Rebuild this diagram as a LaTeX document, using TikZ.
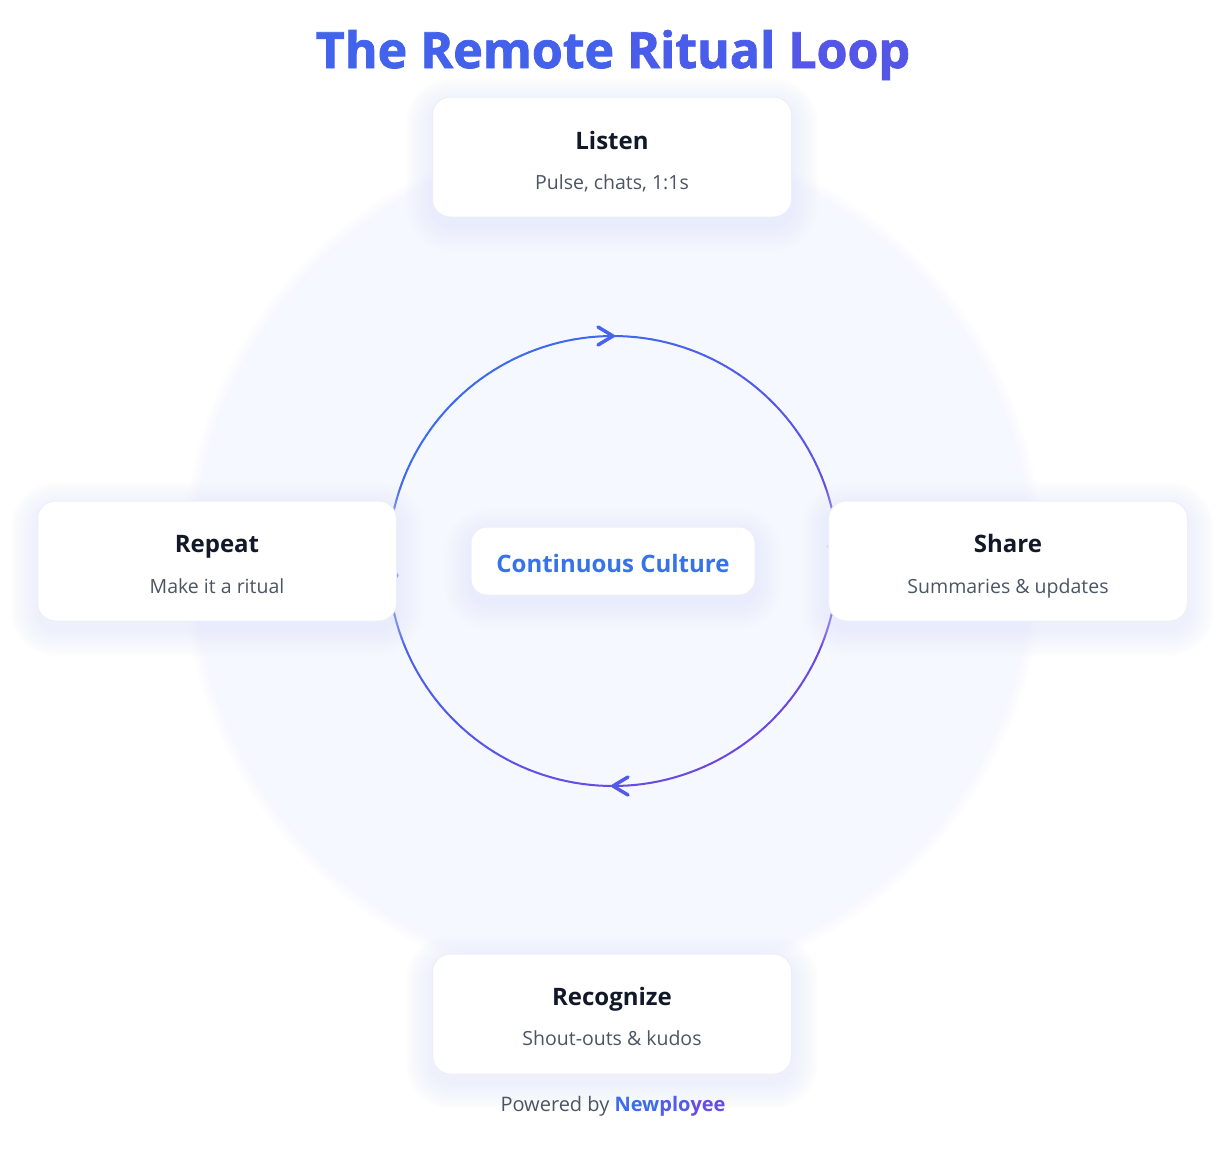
\documentclass[tikz,border=0pt]{standalone}
\usepackage{fontspec}
\setmainfont{Open Sans}
\newfontfamily\titlefont[BoldFeatures={FakeBold=1.6}]{Open Sans}
\definecolor{bgc}{RGB}{246,248,255}
\definecolor{shadowc}{RGB}{222,228,252}
\definecolor{cardborder}{RGB}{236,239,248}
\definecolor{ttlc}{RGB}{17,24,39}
\definecolor{subc}{RGB}{75,85,99}
\definecolor{gA}{RGB}{59,108,240}
\definecolor{gB}{RGB}{108,72,225}
\definecolor{centc}{RGB}{56,114,232}
\newcommand\softshadow[5]{%
  \foreach \k in {1,...,12}{%
    \pgfmathsetmacro\rr{#5+2.2*\k}%
    \fill[shadowc, opacity=0.045, rounded corners=\rr pt]
      ({#1-#3/2-2.2*\k},{#2-#4/2-2.2*\k+8}) rectangle ({#1+#3/2+2.2*\k},{#2+#4/2+2.2*\k+8});
  }}
\tikzset{
  card/.style={draw=cardborder, line width=1pt, fill=white, rounded corners=18pt,
    minimum width=359pt, minimum height=120pt, inner sep=0pt},
  cardttl/.style={font=\bfseries\fontsize{24}{28}\selectfont, text=ttlc, inner sep=0pt, anchor=base},
  cardsub/.style={font=\fontsize{19.5}{24}\selectfont, text=subc, inner sep=0pt, anchor=base},
  chev/.style={line width=3.5pt, line cap=round, line join=round},
}
\begin{document}
\begin{tikzpicture}[x=1pt,y=-1pt]
\useasboundingbox (0,0) rectangle (1232,1154);
\fill[white] (0,0) rectangle (1232,1154);
% background disc
\foreach \k in {1,...,12}{\fill[bgc, opacity=0.07] (613,561) circle ({412+1.5*\k});}
\fill[bgc] (613,561) circle (412);
% title
\node[inner sep=0pt, anchor=base, font=\titlefont\bfseries\fontsize{50}{58}\selectfont] (title) at (613,68)
  {\textcolor[RGB]{66,99,236}{The} \textcolor[RGB]{68,97,236}{Remote} \textcolor[RGB]{74,92,234}{Ritual} \textcolor[RGB]{84,86,232}{Loop}};
% loop circle with gradient
\foreach \a in {0,2,...,358}{%
  \pgfmathsetmacro\t{100*(1-((cos(\a+1)+sin(\a+1))/(2*sqrt(2))+0.5))}%
  \draw[color=gA!\t!gB, line width=2pt, line cap=round]
    ({613+225*cos(\a)},{561+225*sin(\a)}) -- ({613+225*cos(\a+2)},{561+225*sin(\a+2)});
}
\coordinate (ctop) at (613,336);
\coordinate (cbot) at (613,786);
\coordinate (cleft) at (388,561);
\coordinate (cright) at (838,561);
\draw[chev, color={rgb,255:red,74;green,98;blue,240}] ([xshift=-15pt,yshift=9pt]ctop) -- (ctop) -- ([xshift=-15pt,yshift=-9pt]ctop);
\draw[chev, color={rgb,255:red,82;green,90;blue,236}] ([xshift=15pt,yshift=9pt]cbot) -- (cbot) -- ([xshift=15pt,yshift=-9pt]cbot);
\draw[chev, color=gA] ([xshift=-9pt,yshift=-15pt]cleft) -- (cleft) -- ([xshift=9pt,yshift=-15pt]cleft);
\draw[chev, color=gB] ([xshift=-9pt,yshift=15pt]cright) -- (cright) -- ([xshift=9pt,yshift=15pt]cright);
% shadows
\softshadow{612}{157}{359}{120}{18}
\softshadow{217}{561}{359}{120}{18}
\softshadow{1008}{561}{359}{120}{18}
\softshadow{612}{1014}{359}{120}{18}
\softshadow{613}{561}{284}{68}{16}
% cards
\node[card] (listen) at (612,157) {};
\node[cardttl] at ([yshift=8pt]listen.center) {Listen};
\node[cardsub] at ([yshift=-32pt]listen.center) {Pulse, chats, 1:1s};
\node[card] (repeat) at (217,561) {};
\node[cardttl] at ([yshift=9pt]repeat.center) {Repeat};
\node[cardsub] at ([yshift=-32pt]repeat.center) {Make it a ritual};
\node[card] (share) at (1008,561) {};
\node[cardttl] at ([yshift=9pt]share.center) {Share};
\node[cardsub] at ([yshift=-32pt]share.center) {Summaries \& updates};
\node[card] (recog) at (612,1014) {};
\node[cardttl] at ([yshift=9pt]recog.center) {Recognize};
\node[cardsub] at ([yshift=-31pt]recog.center) {Shout-outs \& kudos};
% center
\node[card, minimum width=284pt, minimum height=68pt, rounded corners=16pt] (center) at (613,561) {};
\node[inner sep=0pt, anchor=base, font=\bfseries\fontsize{24}{28}\selectfont, text=centc]
  (centertext) at (613,572) {Continuous Culture};
% footer
\node[inner sep=0pt, font=\fontsize{20}{24}\selectfont, text=subc, anchor=base] (footer) at (613,1111)
  {Powered by \textbf{\textcolor[RGB]{59,108,240}{New}\textcolor[RGB]{80,92,236}{plo}\textcolor[RGB]{100,78,228}{yee}}};
\end{tikzpicture}
\end{document}
